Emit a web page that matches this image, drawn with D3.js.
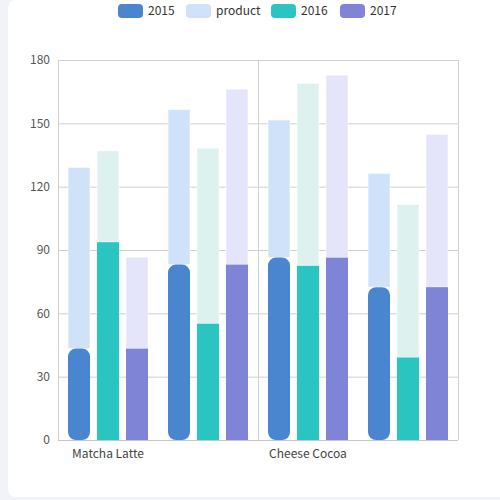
<!DOCTYPE html>
<html>
<head>
<meta charset="utf-8">
<script src="https://cdn.jsdelivr.net/npm/d3@7"></script>
<style>
  html, body { margin: 0; padding: 0; background: #f2f3f9; }
  #card { position: absolute; left: 8px; top: 0; width: 500px; height: 497px; background: #fff; border-radius: 8px; }
  svg { position: absolute; left: 0; top: 0; }
</style>
</head>
<body>
<div id="card"></div>
<svg id="chart"></svg>
<script>
const categories = ["Matcha Latte", "Milk Tea", "Cheese Cocoa", "Walnut Brownie"];
const shownLabels = ["Matcha Latte", "Cheese Cocoa"];
const yTicks = [0, 30, 60, 90, 120, 150, 180];
const v2015 = [43.3, 83.1, 86.4, 72.4];
const v2016 = [93.7, 55.1, 82.5, 39.1];
const v2017 = [43.3, 83.1, 86.4, 72.4];
const top2015 = [85.8, 73.4, 65.2, 53.9];
const top2016 = [43.3, 83.1, 86.4, 72.4];
const top2017 = [43.3, 83.1, 86.4, 72.4];
const legendNames = ["2015", "product", "2016", "2017"];

const series = [
  { name: "2015", base: v2015, top: top2015, color: "#4a86d0", light: "#cfe2f9", radius: 8 },
  { name: "2016", base: v2016, top: top2016, color: "#2ac4c1", light: "#ddf1ef", radius: 0 },
  { name: "2017", base: v2017, top: top2017, color: "#7f84d7", light: "#e4e4fa", radius: 0 }
];
const legendColors = { "2015": "#4a86d0", "product": "#cfe2f9", "2016": "#2ac4c1", "2017": "#7f84d7" };

const margin = { top: 60, right: 42, bottom: 60, left: 58 };
const width = 500 - margin.left - margin.right;
const height = 500 - margin.top - margin.bottom;
const font = "'Noto Sans CJK SC', 'Noto Sans', sans-serif";

const root = d3.select("#chart").attr("width", 500).attr("height", 500);
const svg = root.append("g").attr("transform", `translate(${margin.left},${margin.top})`);

const x = d3.scaleBand().domain(categories).range([0, width]).paddingInner(0).paddingOuter(0);
const xInner = d3.scaleBand().domain(series.map(s => s.name)).range([10, x.bandwidth() - 10]).paddingInner(0.24);
const y = d3.scaleLinear().domain([0, 180]).range([height, 0]);

// grid lines
svg.append("g").selectAll("line").data(yTicks).enter().append("line")
  .attr("x1", 0).attr("x2", width)
  .attr("y1", d => y(d) + 0.5).attr("y2", d => y(d) + 0.5)
  .attr("stroke", "#d0d0d0");

// category split lines every other band
const splits = [categories[0], categories[2]].map(c => x(c)).concat([width]);
svg.append("g").selectAll("line").data(splits).enter().append("line")
  .attr("x1", d => d + 0.5).attr("x2", d => d + 0.5)
  .attr("y1", 0).attr("y2", height)
  .attr("stroke", "#d0d0d0");

// y labels
svg.append("g").selectAll("text").data(yTicks).enter().append("text")
  .attr("x", -8).attr("y", d => y(d)).attr("dy", "0.35em")
  .attr("text-anchor", "end").attr("font-family", font).attr("font-size", 12).attr("fill", "#555")
  .text(d => d);

// x labels
svg.append("g").selectAll("text").data(shownLabels).enter().append("text")
  .attr("x", d => x(d) + x.bandwidth() / 2).attr("y", height + 14).attr("dy", "0.35em")
  .attr("text-anchor", "middle").attr("font-family", font).attr("font-size", 12).attr("fill", "#444")
  .text(d => d);

// bars
series.forEach(s => {
  const g = svg.append("g");
  g.selectAll(".light").data(categories).enter().append("rect")
    .attr("x", c => x(c) + xInner(s.name))
    .attr("width", xInner.bandwidth())
    .attr("y", (c, i) => y(s.base[i] + s.top[i]))
    .attr("height", (c, i) => y(s.base[i]) - y(s.base[i] + s.top[i]))
    .attr("fill", s.light)
    .attr("stroke", "rgba(255,255,255,0.6)").attr("stroke-width", 1);
  g.selectAll(".base").data(categories).enter().append("rect")
    .attr("x", c => x(c) + xInner(s.name))
    .attr("width", xInner.bandwidth())
    .attr("y", (c, i) => y(s.base[i]))
    .attr("height", (c, i) => y(0) - y(s.base[i]))
    .attr("rx", s.radius).attr("ry", s.radius)
    .attr("fill", s.color);
});

// x axis line
svg.append("line").attr("x1", 0).attr("x2", width).attr("y1", height + 0.5).attr("y2", height + 0.5).attr("stroke", "#c8c8c8");

// legend
const legendX = [118, 186, 271, 340];
const legend = root.append("g").selectAll("g").data(legendNames).enter().append("g")
  .attr("transform", (d, i) => `translate(${legendX[i]},4)`);
legend.append("rect").attr("width", 25).attr("height", 14).attr("rx", 4).attr("fill", d => legendColors[d]);
legend.append("text").attr("x", 30).attr("y", 7).attr("dy", "0.35em")
  .attr("font-family", font).attr("font-size", 12).attr("fill", "#333").text(d => d);
</script>
</body>
</html>
